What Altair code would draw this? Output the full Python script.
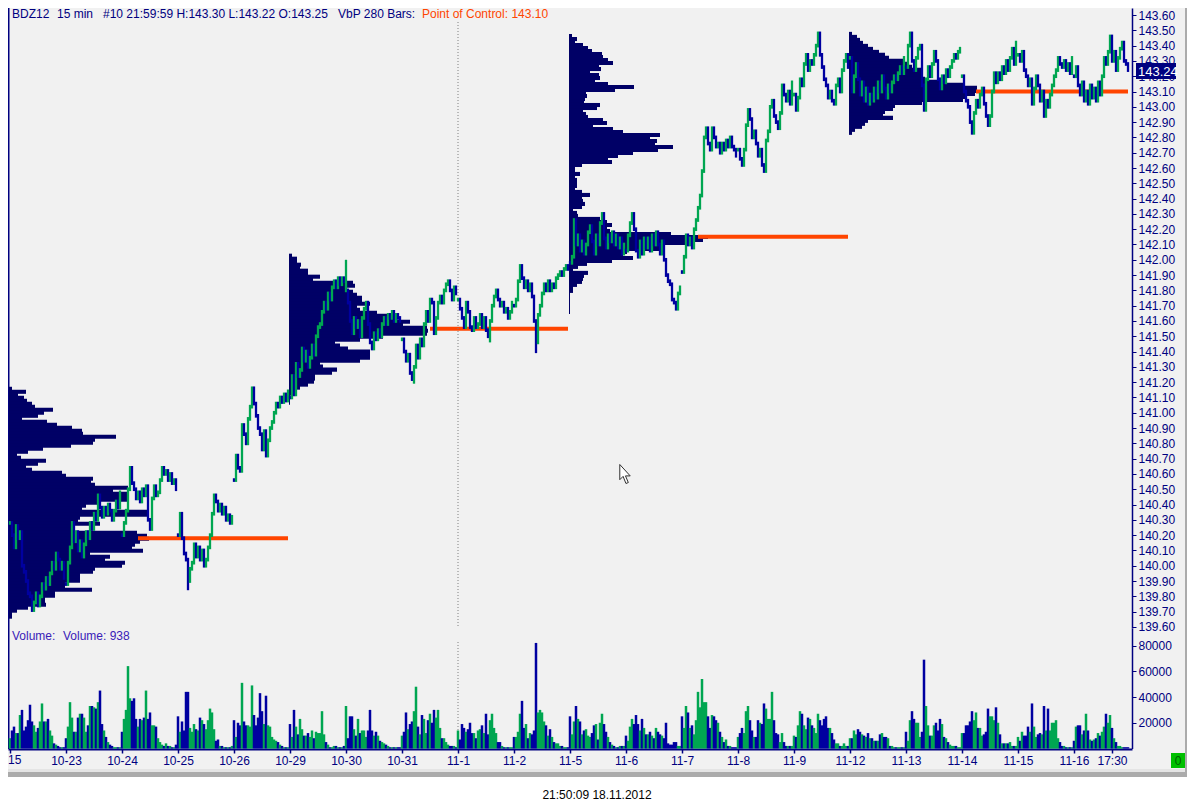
import json
import altair as alt
import pandas as pd

BARS_PER_DAY = 28

day_labels = ["", "10-23", "10-24", "10-25", "10-26", "10-29", "10-30", "10-31", "11-1", "11-2",
              "11-5", "11-6", "11-7", "11-8", "11-9", "11-12", "11-13", "11-14", "11-15", "11-16"]

closes = [
 [140.28,140.20,140.12,140.26,140.18,140.22,140.00,139.96,139.90,139.82,139.80,139.71,139.76,139.82,139.74,139.80,139.88,139.85,139.92,139.88,139.95,140.02,139.98,140.08,140.04,139.98,140.02,139.92],
 [139.88,140.02,140.12,140.28,140.16,140.22,140.10,140.16,140.06,140.14,140.22,140.18,140.28,140.24,140.34,140.30,140.46,140.38,140.32,140.38,140.34,140.40,140.36,140.30,140.36,140.42,140.38,140.48],
 [140.20,140.28,140.36,140.50,140.64,140.54,140.50,140.44,140.48,140.42,140.50,140.46,140.52,140.30,140.24,140.44,140.52,140.46,140.48,140.56,140.64,140.60,140.62,140.56,140.60,140.54,140.56,140.50],
 [140.20,140.34,140.18,140.08,140.04,139.90,139.98,140.02,140.14,140.06,140.12,140.04,140.10,140.00,140.04,140.12,140.20,140.34,140.46,140.42,140.36,140.40,140.34,140.38,140.30,140.33,140.28,140.32],
 [140.56,140.72,140.64,140.62,140.92,140.86,140.80,140.96,141.04,141.16,141.06,140.98,140.90,140.86,140.76,140.88,140.72,140.82,140.90,140.94,141.00,141.06,141.04,141.10,141.07,141.12,141.08,141.14],
 [141.10,141.24,141.12,141.32,141.24,141.28,141.42,141.34,141.40,141.30,141.36,141.44,141.38,141.50,141.56,141.58,141.66,141.72,141.68,141.78,141.74,141.82,141.86,141.82,141.88,141.84,141.88,141.86],
 [141.80,141.72,141.60,141.52,141.62,141.56,141.60,141.50,141.62,141.68,141.72,141.58,141.46,141.42,141.52,141.48,141.54,141.50,141.58,141.62,141.58,141.64,141.62,141.66,141.60,141.64,141.62,141.60],
 [141.48,141.40,141.34,141.38,141.26,141.22,141.30,141.44,141.36,141.48,141.44,141.58,141.66,141.60,141.74,141.72,141.52,141.62,141.72,141.76,141.72,141.80,141.84,141.86,141.80,141.74,141.82,141.78],
 [141.74,141.68,141.62,141.56,141.72,141.66,141.56,141.54,141.62,141.56,141.58,141.64,141.56,141.62,141.54,141.50,141.60,141.70,141.76,141.80,141.74,141.70,141.72,141.66,141.68,141.62,141.66,141.72],
 [141.70,141.74,141.86,141.96,141.88,141.82,141.86,141.80,141.84,141.76,141.60,141.46,141.64,141.70,141.78,141.84,141.80,141.86,141.80,141.84,141.82,141.88,141.90,141.92,141.90,141.94,141.96,141.94],
 [141.98,142.02,142.26,142.10,142.16,142.06,142.12,142.04,142.10,142.18,142.22,142.12,142.04,142.16,142.10,142.24,142.30,142.14,142.08,142.16,142.12,142.18,142.10,142.16,142.08,142.14,142.04,142.10],
 [142.06,142.16,142.24,142.30,142.20,142.06,142.02,142.12,142.04,142.14,142.08,142.14,142.06,142.16,142.10,142.18,142.10,142.04,142.12,142.00,141.90,141.86,141.84,141.74,141.72,141.68,141.78,141.82],
 [141.92,142.02,142.16,142.10,142.14,142.08,142.20,142.26,142.34,142.42,142.58,142.80,142.86,142.76,142.72,142.86,142.80,142.74,142.76,142.70,142.76,142.72,142.78,142.74,142.80,142.74,142.72,142.68],
 [142.72,142.66,142.62,142.72,142.88,142.98,142.92,142.80,142.84,142.76,142.68,142.72,142.62,142.58,142.78,142.84,143.00,143.04,142.94,142.90,142.86,142.96,143.14,143.08,143.04,143.10,143.02,143.16],
 [143.08,142.98,143.06,143.18,143.14,143.28,143.34,143.24,143.30,143.28,143.34,143.40,143.48,143.34,143.26,143.18,143.14,143.06,143.10,143.04,143.02,143.14,143.18,143.10,143.24,143.30,143.34,143.26],
 [143.32,143.10,143.20,143.28,143.18,143.08,143.16,143.04,143.12,143.02,143.08,143.04,143.12,143.06,143.16,143.10,143.20,143.12,143.06,143.14,143.10,143.16,143.20,143.18,143.22,143.26,143.22,143.32],
 [143.26,143.40,143.48,143.30,143.24,143.32,143.38,143.40,143.14,142.98,143.18,143.26,143.20,143.28,143.36,143.30,143.18,143.12,143.20,143.16,143.24,143.20,143.26,143.30,143.34,143.32,143.36,143.38],
 [143.20,143.10,143.04,143.00,142.90,142.83,142.96,143.04,143.00,143.08,143.12,143.02,142.94,142.88,142.94,143.10,143.22,143.16,143.22,143.18,143.26,143.22,143.30,143.24,143.32,143.38,143.28,143.42],
 [143.34,143.30,143.36,143.24,143.20,143.14,143.18,143.02,143.12,143.20,143.14,143.04,143.10,142.94,143.04,143.00,143.08,143.14,143.20,143.24,143.32,143.28,143.26,143.30,143.24,143.28,143.22,143.32],
 [143.20,143.26,143.14,143.08,143.16,143.04,143.10,143.02,143.14,143.06,143.12,143.04,143.16,143.08,143.20,143.32,143.28,143.36,143.46,143.30,143.36,143.24,143.32,143.38,143.42,143.30,143.28,143.24],
]

# thousands of contracts per bar
volumes = [
 [8,14,17,12,12,26,30,14,17,22,34,21,18,13,16,21,35,21,21,23,14,10,4,3,2,1,1,1],
 [8,17,36,24,13,13,24,27,27,24,13,18,33,33,32,31,36,45,19,14,9,5,3,2,1,1,1,1],
 [13,23,30,64,39,37,39,23,17,23,22,24,45,23,28,18,18,17,8,5,3,2,4,2,2,1,1,3],
 [25,13,21,14,44,44,16,13,19,15,14,24,22,19,15,22,31,28,15,6,7,2,2,1,1,1,1,2],
 [22,9,20,18,51,21,18,18,17,49,26,18,24,43,29,19,41,18,17,9,7,6,5,3,2,1,1,1],
 [19,9,30,17,11,23,15,10,10,12,9,14,8,13,12,12,29,11,5,3,1,1,2,2,1,1,1,2],
 [33,8,25,25,15,10,23,12,14,14,9,14,30,14,10,13,10,6,5,4,3,2,1,1,1,1,1,1],
 [10,13,28,15,19,21,29,48,17,11,26,23,12,22,27,20,30,24,30,16,8,8,5,3,2,2,2,1],
 [14,7,19,16,13,15,20,12,12,8,14,15,18,12,27,11,22,27,16,12,5,5,2,1,1,1,1,1],
 [9,9,13,27,37,16,19,8,12,11,14,82,28,30,28,21,18,10,15,9,5,4,4,2,2,1,1,1],
 [25,11,21,33,23,21,11,14,15,10,9,12,18,19,7,20,27,19,13,9,5,3,2,1,1,2,2,2],
 [10,6,17,23,19,26,19,14,23,16,11,11,13,10,8,16,13,11,10,8,20,4,3,3,5,5,2,2],
 [25,16,33,28,16,18,11,22,44,32,54,36,36,25,16,26,25,22,20,13,9,5,7,2,2,1,1,1],
 [9,12,16,12,29,33,22,14,9,9,22,20,19,35,31,23,23,44,22,12,11,5,12,5,2,2,2,2],
 [10,9,18,29,27,18,15,24,23,18,16,12,27,22,18,23,25,16,16,12,7,4,4,2,2,4,2,2],
 [8,8,14,11,15,13,11,10,9,12,8,8,6,6,6,11,12,9,9,8,2,2,1,1,1,1,1,1],
 [13,6,22,29,23,20,20,9,13,69,33,18,10,10,18,20,14,23,19,9,8,5,3,2,2,2,1,1],
 [12,12,18,18,21,29,22,28,16,16,10,11,13,31,25,25,22,32,20,11,4,4,4,4,5,2,2,2],
 [9,6,13,10,10,17,13,35,17,9,11,12,11,33,14,31,14,20,20,22,8,5,2,2,1,1,1,1],
 [6,17,18,18,11,14,27,14,7,6,7,8,12,10,13,17,27,20,26,16,8,5,2,2,1,1,1,1],
]

# extra bar extremes: bar number, price
wick_bars = [168, 263, 202, 240, 89, 89]
wick_prices = [142.00, 141.39, 141.19, 141.46, 139.88, 139.84]

# volume at price per row, top row first
vbp_1 = [3,17,9,15,18,23,26,44,35,29,13,38,48,63,73,74,107,86,84,62,34,19,8,12,37,29,17,23,53,57,84,82,86,119,104,119,118,118,91,77,73,
         139,139,71,69,91,64,64,128,138,140,131,126,123,134,81,101,96,116,113,86,84,71,71,71,56,56,83,46,46,36,36,37,19,8,3,3]
vbp_2 = [3,8,8,12,11,19,19,31,24,64,66,58,64,68,73,73,81,68,71,88,101,108,121,114,138,139,138,94,71,46,51,59,81,81,81,71,31,34,48,43,26,26,25,19,11,8,4,1,1,1]
vbp_3 = [3,8,6,14,19,23,33,34,39,44,30,32,21,30,31,26,39,65,46,17,18,16,15,31,28,14,17,19,34,38,24,44,54,91,81,88,86,104,89,64,
         49,39,43,13,6,6,11,6,8,8,8,6,13,21,13,14,16,13,4,8,9,31,38,43,38,41,102,139,134,124,94,94,58,54,64,43,18,9,4,19,15,14,13,8,4,4,1,1,1,1,1,1,1]
vbp_4 = [3,8,11,14,19,24,30,36,40,54,58,63,74,74,74,76,94,116,128,128,126,118,114,73,46,44,36,34,44,19,16,13,6,3]
vbp_sets = [vbp_1, vbp_2, vbp_3, vbp_4]
vbp_first_bar = [-0.5, 139.5, 279.5, 419.5]
vbp_top_price = [141.17, 142.04, 143.476, 143.49]
vbp_row_step = 0.0196

poc_from = [64, 210, 344, 483]
poc_to = [139, 279, 419, 559]
poc_price = [140.18, 141.55, 142.15, 143.10]

price_ticks = [139.6,139.7,139.8,139.9,140.0,140.1,140.2,140.3,140.4,140.5,140.6,140.7,140.8,140.9,141.0,141.1,141.2,141.3,141.4,
               141.5,141.6,141.7,141.8,141.9,142.0,142.1,142.2,142.3,142.4,142.5,142.6,142.7,142.8,142.9,143.0,143.1,143.2,143.3,143.4,143.5,143.6]
volume_ticks = [20000, 40000, 60000, 80000]

NAVY = "#000080"
PROFILE = "#000066"
GREEN = "#00A651"
BLUE = "#0000A0"
ORANGE = "#FF4500"
FONT = "Liberation Sans"
BAR_RANGE = 0.012

# ---- tables -------------------------------------------------------------
rows, prev = [], None
for d, day in enumerate(closes):
    for j, c in enumerate(day):
        i = d * BARS_PER_DAY + j
        op = prev if (j > 0 and prev is not None) else c
        up = c >= op if j > 0 else (day[1] < c)
        lo, hi = min(op, c), max(op, c)
        rows.append(dict(bar=i, low=lo - BAR_RANGE, high=hi + BAR_RANGE, dir="up" if up else "down",
                         volume=volumes[d][j] * 1000))
        prev = c
bars = pd.DataFrame(rows)
for b, p in zip(wick_bars, wick_prices):
    bars.loc[b, "low"] = min(bars.loc[b, "low"], p)
    bars.loc[b, "high"] = max(bars.loc[b, "high"], p)

prof = []
for vals, start, top in zip(vbp_sets, vbp_first_bar, vbp_top_price):
    for k, v in enumerate(vals):
        prof.append(dict(x=start, x2=start + v / 2, y=top - k * vbp_row_step,
                         y2=top - (k + 1) * vbp_row_step - 0.007))
prof = pd.DataFrame(prof)
poc = pd.DataFrame(dict(a=poc_from, b=poc_to, p=poc_price))

# ---- scales -------------------------------------------------------------
tick_bars = [d * BARS_PER_DAY for d in range(20)] + [551]
tick_text = day_labels + ["17:30"]
label_map = json.dumps({str(b): t for b, t in zip(tick_bars, tick_text)})
x_scale = alt.Scale(domain=[-1, 561], nice=False, zero=False, padding=0)
x_axis = alt.Axis(values=tick_bars, labelExpr=f"{label_map}[''+datum.value]", title=None, grid=False,
                  domainColor=NAVY, domainWidth=2, tickColor=NAVY, tickSize=4, tickWidth=1.5,
                  labelColor=NAVY, labelFont=FONT, labelFontSize=12, labelPadding=2, labelOverlap=False,
                  labelFlush=False)
px = alt.Scale(domain=[143.646, 139.593], range=[0, 620], nice=False, zero=False)
vs = alt.Scale(domain=[0, 93600], range=[740.5, 620], nice=False, zero=False)


def X(f):
    return alt.X(f, type="quantitative", scale=x_scale, axis=x_axis)


def P(f, axis=None):
    return alt.Y(f, type="quantitative", scale=px, axis=axis)


dir_color = alt.Color("dir:N", scale=alt.Scale(domain=["up", "down"], range=[GREEN, BLUE]), legend=None)

price_axis = alt.Axis(values=price_ticks, format=".2f", orient="right", title=None, grid=False,
                      domainColor=NAVY, domainWidth=1.5, tickColor=NAVY, tickSize=4, labelColor=NAVY,
                      labelFont=FONT, labelFontSize=12, labelPadding=2, labelOverlap=False, labelFlush=False)
vol_axis = alt.Axis(values=volume_ticks, format="d", orient="right", title=None, grid=False,
                    domainColor=NAVY, domainWidth=1.5, tickColor=NAVY, tickSize=4, labelColor=NAVY,
                    labelFont=FONT, labelFontSize=12, labelPadding=2, labelOverlap=False, labelFlush=False)

# ---- layers -------------------------------------------------------------
one = pd.DataFrame({"k": [0]})


def label(text, x, y, color, **kw):
    return alt.Chart(one).mark_text(text=text, color=color, font=FONT, fontSize=kw.pop("size", 12),
                                    align=kw.pop("align", "left"), baseline="middle", **kw).encode(
        x=alt.value(x), y=alt.value(y))


def box(x, x2, y, y2, color):
    return alt.Chart(one).mark_rect(color=color).encode(
        x=alt.value(x), x2=alt.value(x2), y=alt.value(y), y2=alt.value(y2))


layers = [
    box(0, 1179, 761, 764, "#e4e4e4"),
    box(0, 1179, 764, 769, "#ababab"),
    box(1177, 1179, 0, 769, "#ababab"),
    box(0, 1179, 769, 800, "#ffffff"),
    box(0, 1.5, 0, 741, NAVY),
    alt.Chart(prof).mark_rect(color=PROFILE).encode(x=X("x"), x2="x2", y=P("y"), y2="y2"),
    alt.Chart(poc).mark_rect(color=ORANGE, height=4).encode(x=X("a"), x2="b", y=P("p")),
    alt.Chart(pd.DataFrame({"bar": [224]})).mark_rule(color="#808080", strokeDash=[1, 2]).encode(
        x=X("bar"), y=alt.value(14), y2=alt.value(620)),
    alt.Chart(pd.DataFrame({"bar": [224]})).mark_rule(color="#808080", strokeDash=[1, 2]).encode(
        x=X("bar"), y=alt.value(634), y2=alt.value(741)),
    alt.Chart(bars).mark_rule(size=2.3).encode(x=X("bar"), y=P("low", price_axis), y2="high", color=dir_color),
    alt.Chart(bars).mark_bar(size=2.5).encode(
        x=X("bar"), y=alt.Y("volume", type="quantitative", scale=vs, axis=vol_axis, stack=None), color=dir_color),
    box(1128, 1168, 55, 71, NAVY),
    label("143.24", 1130, 63.5, "#ffffff", size=13),
    label("BDZ12", 4, 5.5, NAVY),
    label("15 min", 49, 5.5, NAVY),
    label("#10 21:59:59 H:143.30 L:143.22 O:143.25", 95, 5.5, NAVY),
    label("VbP 280 Bars:", 330, 5.5, NAVY),
    label("Point of Control: 143.10", 414, 5.5, ORANGE),
    label("Volume:", 4, 627.5, "#3A20B8"),
    label("Volume: 938", 55, 627.5, "#3A20B8"),
    label("15", 0, 752, NAVY),
    box(1163, 1177, 745, 760, "#00C000"),
    label("0", 1170, 752.5, "#006000", align="center"),
    label("21:50:09 18.11.2012", 589, 787, "#000000", align="center"),
    alt.Chart(one).mark_point(shape="M-0.55,-1 L-0.55,0.6 L-0.2,0.25 L0.1,1 L0.35,0.9 L0.05,0.2 L0.55,0.2 Z",
                              size=360, filled=True, fill="#ffffff", stroke="#303030", strokeWidth=1, opacity=1).encode(
        x=alt.value(617), y=alt.value(466)),
]

chart = alt.layer(*layers).resolve_scale(y="independent", color="shared").resolve_axis(y="independent").properties(
    width=1124, height=741, background="#f1f1f1",
    padding={"left": 0, "top": 0, "right": 55, "bottom": 59},
    autosize=alt.AutoSizeParams(type="none"),
).configure_view(stroke=None)

chart.save("out.html", embed_options={"renderer": "svg", "actions": False})
